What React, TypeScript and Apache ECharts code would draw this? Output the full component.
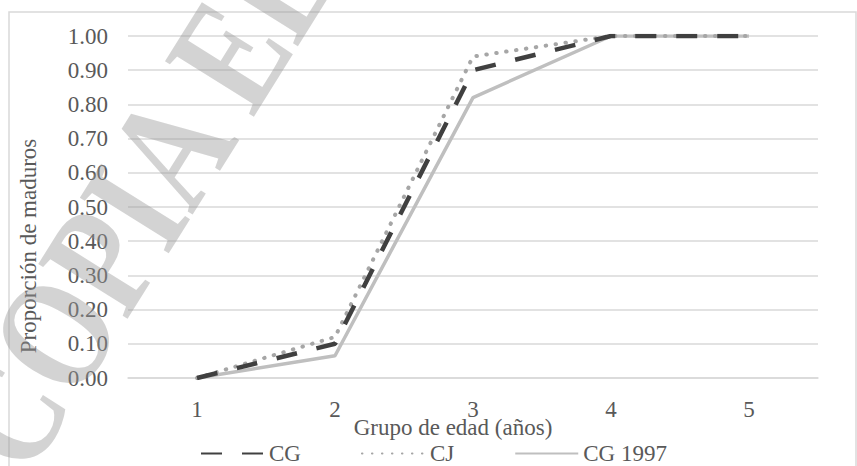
import React, { useEffect, useRef } from "react";
import * as echarts from "echarts";

const categories = ["1", "2", "3", "4", "5"];
const cgValues = [0.0, 0.1, 0.9, 1.0, 1.0];
const cjValues = [0.0, 0.12, 0.94, 1.0, 1.0];
const cg1997Values = [0.0, 0.065, 0.82, 1.0, 1.0];
const seriesNames = ["CG", "CJ", "CG 1997"];
const yTitle = "Proporción de maduros";
const xTitle = "Grupo de edad (años)";
const watermark = "COPIA EL";

const FONT = "'Liberation Serif', 'Times New Roman', serif";
const TXT = "#595959";

export default function App() {
  const ref = useRef<HTMLDivElement>(null);
  useEffect(() => {
    if (!ref.current) return;
    const chart = echarts.init(ref.current, null, { renderer: "svg" });
    chart.setOption({
      animation: false,
      backgroundColor: "#ffffff",
      textStyle: { fontFamily: FONT },
      grid: { left: 128, right: 39, top: 36, bottom: 88 },
      xAxis: {
        type: "category",
        data: categories,
        boundaryGap: true,
        axisLine: { show: true, lineStyle: { color: "#d9d9d9", width: 1.5 } },
        axisTick: { show: false },
        axisLabel: { color: TXT, fontSize: 23, fontFamily: FONT, margin: 20 },
      },
      yAxis: {
        type: "value",
        min: 0,
        max: 1,
        interval: 0.1,
        axisLine: { show: false },
        axisTick: { show: false },
        splitLine: { lineStyle: { color: "#d9d9d9", width: 1.5 } },
        axisLabel: {
          color: TXT,
          fontSize: 23,
          fontFamily: FONT,
          margin: 20,
          formatter: (v: number) => v.toFixed(2),
        },
      },
      legend: {
        left: 195,
        top: 437,
        itemWidth: 63,
        itemHeight: 14,
        itemGap: 60,
        itemStyle: { opacity: 0 },
        textStyle: { color: TXT, fontSize: 23, fontFamily: FONT },
        data: seriesNames,
      },
      series: [
        {
          name: seriesNames[0],
          type: "line",
          data: cgValues,
          symbol: "none",
          z: 4,
          lineStyle: { color: "#404040", width: 4.5, type: [21, 20] },
          itemStyle: { color: "#404040" },
        },
        {
          name: seriesNames[1],
          type: "line",
          data: cjValues,
          symbol: "none",
          z: 3,
          lineStyle: { color: "#a6a6a6", width: 4, type: [0.5, 9.5], cap: "round" },
          itemStyle: { color: "#a6a6a6" },
        },
        {
          name: seriesNames[2],
          type: "line",
          data: cg1997Values,
          symbol: "none",
          z: 2,
          lineStyle: { color: "#bfbfbf", width: 3.5 },
          itemStyle: { color: "#bfbfbf" },
        },
      ],
      graphic: [
        {
          type: "rect",
          z: 0,
          shape: { x: 9, y: 12, width: 847, height: 500 },
          style: { fill: "none", stroke: "#d9d9d9", lineWidth: 1.5 },
          silent: true,
        },
        {
          type: "text",
          x: 28,
          y: 246,
          rotation: Math.PI / 2,
          style: {
            text: yTitle,
            fill: TXT,
            font: `23px ${FONT}`,
            textAlign: "center",
            textVerticalAlign: "middle",
          },
          silent: true,
        },
        {
          type: "text",
          x: 453,
          y: 427,
          style: {
            text: xTitle,
            fill: TXT,
            font: `23px ${FONT}`,
            textAlign: "center",
            textVerticalAlign: "middle",
          },
          silent: true,
        },
        {
          type: "text",
          x: 138,
          y: 200,
          z: 100,
          scaleX: 0.78,
          rotation: (58 * Math.PI) / 180,
          style: {
            text: watermark,
            fill: "rgba(150,150,150,0.42)",
            font: `bold 160px ${FONT}`,
            textAlign: "center",
            textVerticalAlign: "middle",
          },
          silent: true,
        },
      ],
    });
    return () => chart.dispose();
  }, []);
  return (
    <div
      ref={ref}
      style={{ position: "fixed", left: 0, top: 0, width: 857, height: 466 }}
    />
  );
}
